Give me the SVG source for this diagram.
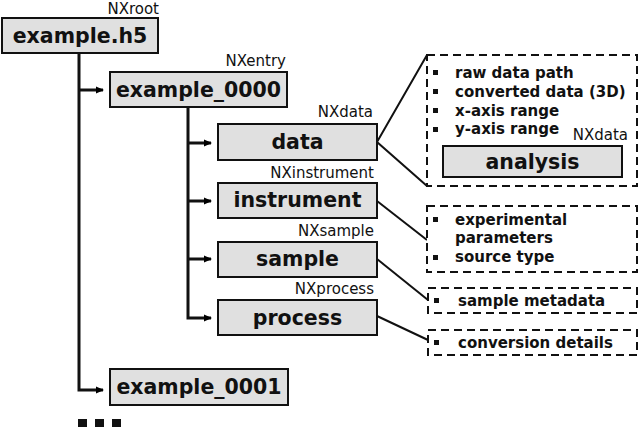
<svg xmlns="http://www.w3.org/2000/svg" width="640" height="429" viewBox="0 0 640 429">
<defs>
<marker id="ah" markerWidth="8" markerHeight="8" refX="7" refY="4" orient="auto" markerUnits="userSpaceOnUse">
<path d="M0,0.5 L8,4 L0,7.5 Z" fill="#000"/>
</marker>
<style>
.box{fill:#e0e0e0;stroke:#111;stroke-width:2}
.lbl{font-family:"DejaVu Sans",Verdana,sans-serif;font-weight:bold;font-size:20.5px;text-anchor:middle;fill:#111}
.nx{font-family:"DejaVu Sans",Verdana,sans-serif;font-size:15px;text-anchor:end;fill:#111}
.tree{fill:none;stroke:#111;stroke-width:3}
.link{fill:none;stroke:#111;stroke-width:2}
.dash{fill:#fff;stroke:#111;stroke-width:2;stroke-dasharray:8,5}
.bt{font-family:"DejaVu Sans",Verdana,sans-serif;font-weight:bold;font-size:15px;fill:#111}
.bul{fill:#111}
</style>
</defs>
<rect width="640" height="429" fill="#fff"/>
<g id="connectors">
<path class="tree" d="M79,54 V390 H103" marker-end="url(#ah)"/>
<path class="tree" d="M79,90 H103" marker-end="url(#ah)"/>
<path class="tree" d="M188,107 V318 H211" marker-end="url(#ah)"/>
<path class="tree" d="M188,143 H211" marker-end="url(#ah)"/>
<path class="tree" d="M188,201 H211" marker-end="url(#ah)"/>
<path class="tree" d="M188,259 H211" marker-end="url(#ah)"/>
<path class="link" d="M427,55 L377,142 L427,186"/>
<path class="link" d="M377,201 L427,240"/>
<path class="link" d="M377,259 L428,300"/>
<path class="link" d="M377,316 L428,340"/>
</g>
<g id="root">
<rect class="box" x="2" y="18" width="156" height="35"/>
<text class="lbl" x="80" y="43">example.h5</text>
<text class="nx" x="159" y="13.5">NXroot</text>
</g>
<g id="entry0">
<rect class="box" x="110" y="72" width="177" height="35"/>
<text class="lbl" x="198.5" y="97">example_0000</text>
<text class="nx" x="286" y="66">NXentry</text>
</g>
<g id="data">
<rect class="box" x="218" y="124" width="159" height="36"/>
<text class="lbl" x="297.5" y="149">data</text>
<text class="nx" x="373" y="117">NXdata</text>
</g>
<g id="instrument">
<rect class="box" x="218" y="183" width="159" height="35"/>
<text class="lbl" x="297.5" y="207">instrument</text>
<text class="nx" x="374" y="178">NXinstrument</text>
</g>
<g id="sample">
<rect class="box" x="218" y="242" width="159" height="35"/>
<text class="lbl" x="297.5" y="266">sample</text>
<text class="nx" x="374" y="236">NXsample</text>
</g>
<g id="process">
<rect class="box" x="218" y="300" width="159" height="35"/>
<text class="lbl" x="297.5" y="325">process</text>
<text class="nx" x="374" y="294">NXprocess</text>
</g>
<g id="entry1">
<rect class="box" x="110" y="369" width="178" height="36"/>
<text class="lbl" x="199" y="394">example_0001</text>
</g>
<g id="more">
<rect class="bul" x="78" y="419" width="9" height="8"/>
<rect class="bul" x="95" y="419" width="9" height="8"/>
<rect class="bul" x="112" y="419" width="9" height="8"/>
</g>
<g id="data-details">
<rect class="dash" x="427" y="55" width="210" height="131"/>
<rect class="bul" x="433" y="70" width="5" height="5"/>
<text class="bt" x="455" y="78">raw data path</text>
<rect class="bul" x="433" y="89" width="5" height="5"/>
<text class="bt" x="455" y="97">converted data (3D)</text>
<rect class="bul" x="433" y="108" width="5" height="5"/>
<text class="bt" x="455" y="116">x-axis range</text>
<rect class="bul" x="433" y="127" width="5" height="5"/>
<text class="bt" x="455" y="134">y-axis range</text>
<text class="nx" x="628" y="140">NXdata</text>
</g>
<g id="analysis">
<rect class="box" x="443" y="146" width="179" height="31"/>
<text class="lbl" x="532.5" y="169">analysis</text>
</g>
<g id="instrument-details">
<rect class="dash" x="427" y="206" width="210" height="66"/>
<rect class="bul" x="433" y="217" width="5" height="5"/>
<text class="bt" x="455" y="225">experimental</text>
<text class="bt" x="455" y="243">parameters</text>
<rect class="bul" x="433" y="255" width="5" height="5"/>
<text class="bt" x="455" y="262">source type</text>
</g>
<g id="sample-details">
<rect class="dash" x="428" y="288" width="209" height="25"/>
<rect class="bul" x="434" y="298" width="5" height="5"/>
<text class="bt" x="458" y="306">sample metadata</text>
</g>
<g id="process-details">
<rect class="dash" x="428" y="330" width="209" height="25"/>
<rect class="bul" x="434" y="340" width="5" height="5"/>
<text class="bt" x="458" y="348">conversion details</text>
</g>
</svg>
